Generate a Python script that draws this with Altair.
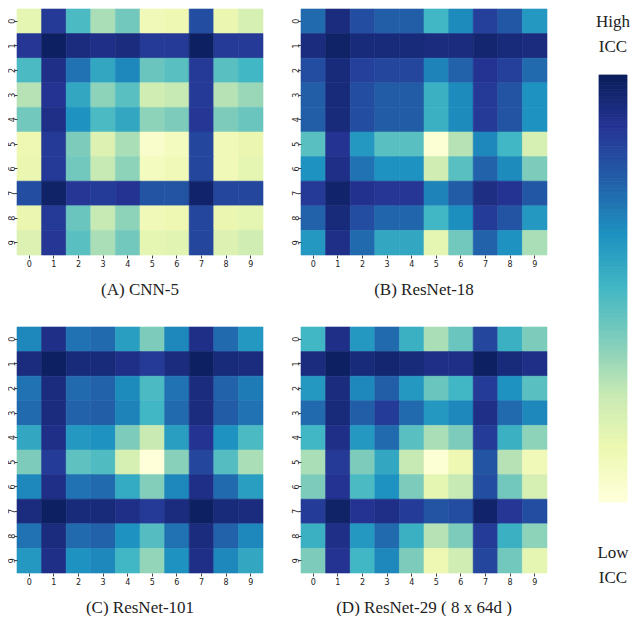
import altair as alt
import pandas as pd
import numpy as np

labels = list(range(10))

cnn5 = [
    [0.15, 0.86, 0.48, 0.30, 0.40, 0.10, 0.12, 0.80, 0.13, 0.20],
    [0.87, 0.98, 0.92, 0.90, 0.92, 0.86, 0.86, 0.98, 0.86, 0.86],
    [0.48, 0.90, 0.70, 0.55, 0.65, 0.42, 0.45, 0.86, 0.45, 0.50],
    [0.28, 0.88, 0.55, 0.35, 0.45, 0.22, 0.25, 0.86, 0.28, 0.33],
    [0.40, 0.90, 0.62, 0.48, 0.55, 0.35, 0.38, 0.87, 0.38, 0.42],
    [0.12, 0.86, 0.38, 0.18, 0.30, 0.04, 0.08, 0.82, 0.10, 0.13],
    [0.13, 0.86, 0.40, 0.25, 0.35, 0.08, 0.10, 0.82, 0.10, 0.15],
    [0.80, 0.97, 0.87, 0.85, 0.88, 0.78, 0.78, 0.96, 0.82, 0.82],
    [0.13, 0.86, 0.42, 0.25, 0.35, 0.10, 0.12, 0.82, 0.13, 0.15],
    [0.18, 0.87, 0.45, 0.30, 0.40, 0.15, 0.16, 0.82, 0.18, 0.22],
]

resnet18 = [
    [0.72, 0.92, 0.80, 0.75, 0.75, 0.50, 0.64, 0.84, 0.77, 0.60],
    [0.92, 0.97, 0.93, 0.93, 0.93, 0.92, 0.92, 0.95, 0.93, 0.92],
    [0.80, 0.93, 0.84, 0.82, 0.82, 0.66, 0.74, 0.88, 0.84, 0.72],
    [0.75, 0.93, 0.80, 0.76, 0.76, 0.52, 0.64, 0.86, 0.78, 0.62],
    [0.75, 0.93, 0.80, 0.76, 0.76, 0.52, 0.64, 0.86, 0.78, 0.62],
    [0.45, 0.88, 0.60, 0.45, 0.45, 0.02, 0.28, 0.65, 0.50, 0.20],
    [0.62, 0.90, 0.70, 0.62, 0.62, 0.22, 0.45, 0.74, 0.64, 0.38],
    [0.86, 0.96, 0.89, 0.87, 0.87, 0.66, 0.76, 0.91, 0.88, 0.77],
    [0.74, 0.93, 0.80, 0.73, 0.73, 0.50, 0.63, 0.85, 0.78, 0.60],
    [0.60, 0.90, 0.72, 0.55, 0.55, 0.15, 0.40, 0.74, 0.62, 0.30],
]

resnet101 = [
    [0.65, 0.90, 0.70, 0.72, 0.58, 0.38, 0.65, 0.90, 0.72, 0.60],
    [0.92, 0.98, 0.93, 0.93, 0.90, 0.86, 0.92, 0.98, 0.93, 0.92],
    [0.70, 0.92, 0.72, 0.74, 0.64, 0.48, 0.70, 0.92, 0.74, 0.68],
    [0.72, 0.92, 0.74, 0.75, 0.66, 0.50, 0.72, 0.92, 0.76, 0.70],
    [0.55, 0.90, 0.60, 0.62, 0.38, 0.24, 0.58, 0.88, 0.62, 0.48],
    [0.38, 0.85, 0.44, 0.47, 0.20, 0.00, 0.36, 0.82, 0.46, 0.30],
    [0.65, 0.90, 0.70, 0.72, 0.54, 0.37, 0.65, 0.90, 0.72, 0.58],
    [0.92, 0.98, 0.93, 0.93, 0.90, 0.86, 0.92, 0.98, 0.93, 0.92],
    [0.70, 0.92, 0.72, 0.74, 0.62, 0.46, 0.70, 0.92, 0.74, 0.65],
    [0.60, 0.90, 0.62, 0.65, 0.50, 0.34, 0.62, 0.90, 0.65, 0.55],
]

resnet29 = [
    [0.50, 0.90, 0.60, 0.72, 0.52, 0.30, 0.42, 0.82, 0.52, 0.38],
    [0.92, 0.98, 0.93, 0.95, 0.93, 0.90, 0.90, 0.98, 0.93, 0.90],
    [0.60, 0.92, 0.65, 0.75, 0.60, 0.42, 0.50, 0.85, 0.62, 0.45],
    [0.72, 0.93, 0.75, 0.85, 0.72, 0.60, 0.65, 0.90, 0.72, 0.65],
    [0.50, 0.90, 0.60, 0.72, 0.45, 0.30, 0.38, 0.85, 0.52, 0.35],
    [0.30, 0.86, 0.38, 0.55, 0.25, 0.02, 0.12, 0.78, 0.28, 0.10],
    [0.38, 0.88, 0.48, 0.62, 0.38, 0.15, 0.25, 0.80, 0.40, 0.20],
    [0.85, 0.97, 0.88, 0.90, 0.85, 0.78, 0.80, 0.96, 0.87, 0.80],
    [0.52, 0.90, 0.60, 0.72, 0.52, 0.28, 0.38, 0.85, 0.52, 0.35],
    [0.38, 0.88, 0.50, 0.65, 0.38, 0.12, 0.22, 0.82, 0.40, 0.15],
]

titles = ["(A) CNN-5", "(B) ResNet-18", "(C) ResNet-101", "(D) ResNet-29 ( 8 x 64d )"]
matrices = [cnn5, resnet18, resnet101, resnet29]

# YlGnBu palette stops
ylgnbu = ["#ffffd9", "#edf8b1", "#c7e9b4", "#7fcdbb", "#41b6c4",
          "#1d91c0", "#225ea8", "#253494", "#081d58"]
ylgnbu_domain = [0, 0.125, 0.25, 0.375, 0.5, 0.625, 0.75, 0.875, 1]

color_levels = list(np.round(np.linspace(0, 1, 121), 4))
top_label = ["High", "ICC"]
bottom_label = ["Low", "ICC"]

SERIF = "Liberation Serif"
SANS = "DejaVu Sans"
cscale = alt.Scale(domain=ylgnbu_domain, range=ylgnbu, interpolate="rgb")
W = 246


def panel(mat, title):
    rows = []
    for i, r in enumerate(mat):
        for j, v in enumerate(r):
            rows.append({"row": labels[i], "col": labels[j], "v": v})
    df = pd.DataFrame(rows)
    return alt.Chart(df).mark_rect(strokeWidth=0.6).encode(
        x=alt.X("col:O", title=None,
                axis=alt.Axis(labelAngle=0, domain=False, ticks=True, tickSize=3,
                              tickColor="#444", labelFont=SANS, labelFontSize=8,
                              labelColor="#222", labelPadding=2)),
        y=alt.Y("row:O", title=None,
                axis=alt.Axis(labelAngle=270, domain=False, ticks=True, tickSize=3,
                              tickColor="#444", labelFont=SANS, labelFontSize=8,
                              labelColor="#222", labelPadding=2, labelBaseline="middle",
                              labelAlign="center")),
        color=alt.Color("v:Q", scale=cscale, legend=None),
        stroke=alt.Stroke("v:Q", scale=cscale, legend=None),
    ).properties(
        width=W, height=W,
        title=alt.TitleParams(title, orient="bottom", font=SERIF, fontSize=17,
                              fontWeight="normal", color="#222", offset=14),
    )


pA, pB, pC, pD = [panel(m, t) for m, t in zip(matrices, titles)]

grid = alt.vconcat(
    alt.hconcat(pA, pB, spacing=28),
    alt.hconcat(pC, pD, spacing=28),
    spacing=28,
)

cb_df = pd.DataFrame({"lo": color_levels[:-1], "hi": color_levels[1:],
                      "v": color_levels[:-1]})

bar = alt.Chart(cb_df).mark_rect(strokeWidth=0.8).encode(
    y=alt.Y("lo:Q", scale=alt.Scale(domain=[0, 1], nice=False, zero=False), axis=None),
    y2="hi:Q",
    color=alt.Color("v:Q", scale=cscale, legend=None),
    stroke=alt.Stroke("v:Q", scale=cscale, legend=None),
).properties(width=28, height=427)


def label_chart(lines):
    df = pd.DataFrame({"t": lines, "i": list(range(len(lines)))})
    return alt.Chart(df).mark_text(
        font=SERIF, fontSize=17, color="#222", align="center", baseline="middle",
    ).encode(
        text="t:N",
        y=alt.Y("i:O", axis=None, scale=alt.Scale(paddingInner=0, paddingOuter=0)),
    ).properties(width=28, height=50)


colorbar = alt.vconcat(
    label_chart(top_label),
    bar.properties(title=alt.TitleParams("", offset=0)),
    spacing=15,
)
colorbar = alt.vconcat(colorbar, label_chart(bottom_label), spacing=37)

chart = alt.hconcat(grid, colorbar, spacing=48).configure_view(strokeWidth=0).properties(
    background="white", padding=0
)

chart.save("out.html", embed_options={"renderer": "svg", "actions": False})
